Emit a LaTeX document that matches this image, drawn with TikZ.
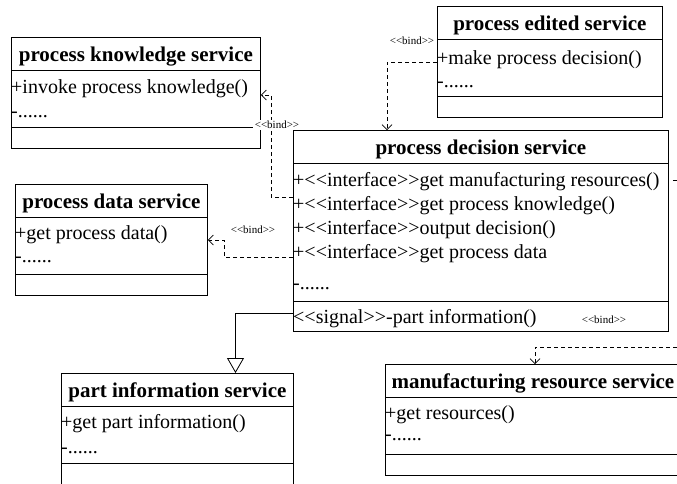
\documentclass[tikz,border=0pt]{standalone}
\usepackage{fontspec}
\setmainfont{Liberation Serif}[Ligatures=TeXOff]
\usetikzlibrary{calc,positioning,arrows.meta}

\tikzset{
  svc/.style={draw, line width=0.8pt, inner sep=0pt, anchor=north west},
  svctitle/.style={font=\bfseries\fontsize{21}{24}\selectfont, inner sep=0pt, anchor=base},
  svcop/.style={font=\fontsize{20}{24}\selectfont, inner sep=0pt, anchor=base west},
  bindline/.style={line width=0.7pt, dash pattern=on 4pt off 3pt,
    -{Straight Barb[length=5pt,width=10pt,line width=0.7pt]}},
  genline/.style={line width=0.8pt, -{Triangle[open,length=15pt,width=17pt,fill=white]}},
  bindlbl/.style={font=\fontsize{11}{12}\selectfont, inner sep=1.5pt},
}

% name, corner, width, height, divider, title
\newcommand{\svcbox}[6]{%
  \node[svc, minimum width=#3, minimum height=#4] (#1) at (#2) {};
  \draw[line width=0.8pt] ([yshift=-33pt]#1.north west) -- ([yshift=-33pt]#1.north east);
  \draw[line width=0.8pt] ([yshift=-#5pt]#1.north west) -- ([yshift=-#5pt]#1.north east);
  \node[svctitle] (#1-t) at ([yshift=-24pt]#1.north) {#6};
}

\begin{document}
\begin{tikzpicture}[x=1pt,y=-1pt]
    \useasboundingbox (0,0) rectangle (677,483);
    \clip (0,0) rectangle (677,483);

    \svcbox{know}{11,37}{249}{111}{90}{process knowledge service}
    \svcbox{edit}{437,6}{225}{111}{90}{process edited service}
    \svcbox{dec}{293,130}{375}{201}{171}{process decision service}
    \svcbox{data}{15,184}{192}{111}{90}{process data service}
    \svcbox{part}{61,373}{232}{111}{90}{part information service}
    \svcbox{manu}{385,364}{295}{111}{90}{manufacturing resource service}

    \node[svcop] (know-1) at ([yshift=-56pt]know.north west) {+invoke process knowledge()};
    \node[svcop] (know-2) at ([yshift=-80pt]know.north west) {-......};
    \node[svcop] (edit-1) at ([yshift=-58pt]edit.north west) {+make process decision()};
    \node[svcop] (edit-2) at ([yshift=-81pt]edit.north west) {-......};
    \node[svcop] (dec-1) at ([yshift=-56pt]dec.north west) {+<<interface>>get manufacturing resources()};
    \node[svcop] (dec-2) at ([yshift=-80pt]dec.north west) {+<<interface>>get process knowledge()};
    \node[svcop] (dec-3) at ([yshift=-104pt]dec.north west) {+<<interface>>output decision()};
    \node[svcop] (dec-4) at ([yshift=-128pt]dec.north west) {+<<interface>>get process data};
    \node[svcop] (dec-5) at ([yshift=-159pt]dec.north west) {-......};
    \node[svcop] (dec-6) at ([yshift=-193pt]dec.north west) {<<signal>>-part information()};
    \node[svcop] (data-1) at ([yshift=-55pt]data.north west) {+get process data()};
    \node[svcop] (data-2) at ([yshift=-78pt]data.north west) {-......};
    \node[svcop] (part-1) at ([yshift=-55pt]part.north west) {+get part information()};
    \node[svcop] (part-2) at ([yshift=-80pt]part.north west) {-......};
    \node[svcop] (manu-1) at ([yshift=-55pt]manu.north west) {+get resources()};
    \node[svcop] (manu-2) at ([yshift=-76pt]manu.north west) {-......};

    % bends of the connectors
    \coordinate (kturn) at (271,95);
    \coordinate (eturn) at (387,62);
    \coordinate (dturn) at (224,240);
    \coordinate (sturn) at (235.5,313);
    \coordinate (mturn) at (535,347);

    \draw[bindline] ([yshift=-67pt]dec.north west) -| (kturn) -- (know.east |- kturn);
    \draw[bindline] (edit.west |- eturn) -- (eturn) -- (eturn |- dec.north);
    \draw[bindline] ([yshift=-127pt]dec.north west) -| (dturn) -- (data.east |- dturn);
    \draw[genline] ([yshift=-183pt]dec.north west) -- (sturn) -- (sturn |- part.north);
    \draw[bindline] ([xshift=4pt,yshift=-50pt]dec.north east) -- ++(20,0) |- (mturn) -- (mturn |- manu.north);

    \node[bindlbl, fill=white] (kb) at (277,125) {<<bind>>};
    \node[bindlbl] (eb) at (412,41) {<<bind>>};
    \node[bindlbl] (db) at (253,230) {<<bind>>};
    \node[bindlbl] (mb) at (604,320) {<<bind>>};
\end{tikzpicture}
\end{document}
